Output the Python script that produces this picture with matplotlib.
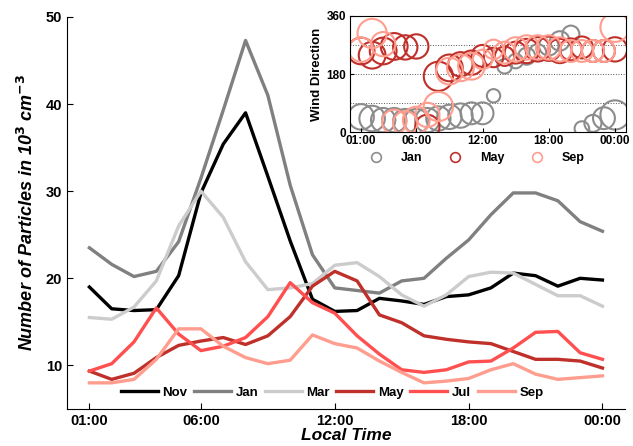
import matplotlib
matplotlib.use('Agg')
import matplotlib.pyplot as plt
from matplotlib.lines import Line2D
import numpy as np

plt.rcParams['font.family'] = ['Liberation Sans', 'DejaVu Sans']
plt.rcParams['font.weight'] = 'bold'

# hours of the day (1 = 01:00 ... 24 = 00:00)
hours = list(range(1, 25))
tick_hours = [1, 6, 12, 18, 24]
tick_labels = ['01:00', '06:00', '12:00', '18:00', '00:00']

# particle number concentration, 10^3 cm^-3
nov = [19.0, 16.5, 16.3, 16.4, 20.3, 29.8, 35.4, 39.0, 31.7, 24.3, 17.6, 16.2,
       16.3, 17.7, 17.4, 17.0, 17.9, 18.1, 18.9, 20.6, 20.3, 19.1, 20.0, 19.8]
jan = [23.5, 21.6, 20.2, 20.8, 24.2, 31.5, 39.3, 47.3, 41.0, 30.7, 22.7, 18.9,
       18.6, 18.3, 19.7, 20.0, 22.3, 24.4, 27.3, 29.8, 29.8, 28.9, 26.5, 25.4]
mar = [15.5, 15.3, 16.7, 19.7, 26.0, 30.0, 27.0, 21.9, 18.7, 18.9, 19.4, 21.5,
       21.8, 20.2, 18.1, 16.8, 18.1, 20.2, 20.7, 20.6, 19.3, 18.0, 18.0, 16.8]
may = [9.35, 8.4, 9.1, 10.9, 12.3, 12.8, 13.2, 12.4, 13.4, 15.6, 19.1, 20.8,
       19.7, 15.8, 14.9, 13.4, 13.0, 12.7, 12.5, 11.6, 10.7, 10.7, 10.5, 9.7]
jul = [9.35, 10.2, 12.7, 16.6, 13.6, 11.7, 12.2, 13.2, 15.6, 19.5, 17.2, 16.0,
       13.4, 11.3, 9.5, 9.2, 9.5, 10.4, 10.5, 12.0, 13.8, 13.9, 11.45, 10.7]
sep = [8.0, 8.0, 8.4, 10.7, 14.2, 14.2, 12.2, 10.9, 10.2, 10.6, 13.5, 12.5,
       12.0, 10.5, 9.2, 8.0, 8.2, 8.5, 9.5, 10.2, 9.0, 8.4, 8.6, 8.8]

# wind direction (deg) and wind speed (circle size) for the inset
jan_dir = [48, 43, 38, 38, 35, 35, 38, 43, 48, 52, 59, 59,
           113, 204, 220, 235, 246, 267, 282, 303, 12, 28, 44, 54]
may_dir = [251, 238, 251, 265, 262, 265, 17, 173, 199, 210, 215, 236,
           231, 235, 246, 251, 256, 258, 251, 256, 262, 251, 251, 256]
sep_dir = [255, 305, 272, 33, 28, 38, 54, 80, 189, 199, 204, 225,
           256, 246, 256, 262, 262, 262, 256, 251, 251, 251, 251, 324]
jan_spd = [10.5, 10.5, 10, 10, 10, 10, 10, 10, 10, 10, 9, 9,
           5.5, 6, 6, 7, 7, 8, 8, 7, 6, 7, 9, 12]
may_spd = [11, 11, 11, 11, 10, 10, 10, 12, 11, 10, 10, 9,
           8, 8, 9, 10, 10, 10, 10, 9, 9, 9, 9, 10]
sep_spd = [10, 12, 10, 10, 10, 11, 10, 12, 11, 11, 11, 8,
           8, 9, 10, 10, 10, 10, 10, 9, 9, 9, 9, 12]

c_nov = 'black'
c_jan = '#808080'
c_mar = '#cccccc'
c_may = '#c0302a'
c_jul = '#ff4f4f'
c_sep = '#ff9d8e'
c_jan_dot = '#8c8c8c'

fig = plt.figure(figsize=(6.33, 4.46), dpi=100)
ax = fig.add_axes([0.106, 0.083, 0.881, 0.879])

lw = 2.4
ax.plot(hours, nov, color=c_nov, lw=lw, label='Nov')
ax.plot(hours, jan, color=c_jan, lw=lw, label='Jan')
ax.plot(hours, mar, color=c_mar, lw=lw, label='Mar')
ax.plot(hours, may, color=c_may, lw=lw, label='May')
ax.plot(hours, jul, color=c_jul, lw=lw, label='Jul')
ax.plot(hours, sep, color=c_sep, lw=lw, label='Sep')

ax.set_xlim(0, 25)
ax.set_ylim(5, 50)
ax.set_yticks([10, 20, 30, 40, 50])
ax.set_xticks(tick_hours)
ax.set_xticklabels(tick_labels)
ax.spines['top'].set_visible(False)
ax.spines['right'].set_visible(False)
ax.tick_params(direction='in', length=4, labelsize=10.5)
for t in ax.get_xticklabels() + ax.get_yticklabels():
    t.set_fontweight('bold')
ax.set_xlabel('Local Time', fontsize=12.5, fontweight='bold', style='italic', labelpad=0)
ax.set_ylabel('Number of Particles in 10$^{\\mathbf{3}}$ cm$^{\\mathbf{-3}}$',
              fontsize=13, fontweight='bold', style='italic', labelpad=6)
ax.legend(loc='center', bbox_to_anchor=(0.475, 0.041), ncol=6, frameon=False,
          handlelength=2.8, columnspacing=0.5, handletextpad=0.35,
          prop={'weight': 'bold', 'size': 9.5})

# inset with wind direction
ins = fig.add_axes([0.553, 0.703, 0.436, 0.262])

def sz(v):
    return (1.75 * np.array(v)) ** 2

ins.scatter(hours, jan_dir, s=sz(jan_spd), facecolors='none', edgecolors=c_jan_dot, linewidths=1.5)
ins.scatter(hours, may_dir, s=sz(may_spd), facecolors='none', edgecolors=c_may, linewidths=1.5)
ins.scatter(hours, sep_dir, s=sz(sep_spd), facecolors='none', edgecolors=c_sep, linewidths=1.5)
for g in [90, 180, 270]:
    ins.axhline(g, color='#555555', ls=':', lw=0.7, zorder=0)
ins.set_xlim(0, 25)
ins.set_ylim(0, 360)
ins.set_yticks([0, 180, 360])
ins.set_xticks(tick_hours)
ins.set_xticklabels(tick_labels)
ins.tick_params(direction='in', length=3, labelsize=8.5, pad=2)
ins.tick_params(axis='y', pad=3)
for t in ins.get_xticklabels() + ins.get_yticklabels():
    t.set_fontweight('bold')
ins.set_ylabel('Wind Direction', fontsize=9.5, fontweight='bold', labelpad=2)
handles = [Line2D([], [], ls='none', marker='o', markersize=7, mfc='none', mec=c, mew=1.2)
           for c in [c_jan_dot, c_may, c_sep]]
ins.legend(handles, ['Jan', 'May', 'Sep'], loc='center', bbox_to_anchor=(0.45, -0.22),
           ncol=3, frameon=False, prop={'weight': 'bold', 'size': 9},
           handletextpad=1.0, columnspacing=1.6)

plt.savefig('out.png', dpi=100)
